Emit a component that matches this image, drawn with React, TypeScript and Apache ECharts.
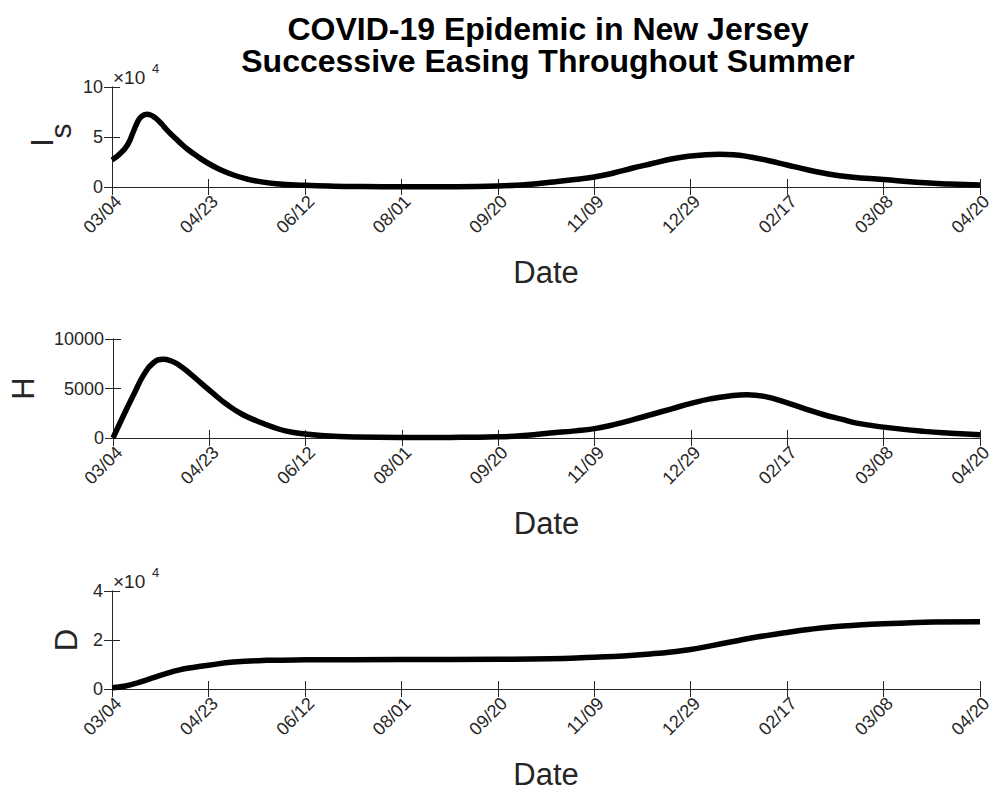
import React, { useEffect, useRef } from "react";
import * as echarts from "echarts";

// Shared date axis: one tick every 50 days over 450 days
const DATE_TICKS = ["03/04", "04/23", "06/12", "08/01", "09/20", "11/09", "12/29", "02/17", "03/08", "04/20"];
const DAY_STEP = 50;
const DAY_MAX = 450;

// Symptomatic infected (I_s)
const isDays = [0, 4, 8, 11, 13, 15, 18, 20, 22, 24, 26, 28, 30, 33, 36, 39, 44, 50, 56, 63, 70, 75, 85, 100, 115, 130, 150, 175, 200, 215, 227, 240, 250, 260, 270, 280, 290, 300, 308, 315, 322, 331, 340, 350, 360, 370, 383, 400, 417, 434, 450];
const isValues = [27000, 33000, 42000, 55000, 64000, 70000, 72800, 72000, 69800, 66500, 62500, 58000, 54000, 48500, 43000, 38000, 31000, 23500, 17500, 12000, 8000, 5900, 3300, 1700, 800, 400, 200, 300, 1000, 2500, 4800, 7500, 10000, 14000, 19000, 23500, 28000, 31000, 32300, 32700, 32300, 30000, 26500, 22000, 17500, 13500, 10000, 7400, 4700, 3000, 2000];

// Hospitalized (H)
const hDays = [0, 6, 11, 16, 21, 26, 30, 34, 40, 46, 52, 59, 67, 75, 83, 90, 100, 110, 125, 150, 175, 200, 215, 227, 240, 250, 260, 270, 280, 290, 300, 310, 320, 329, 338, 350, 360, 369, 378, 386, 400, 421, 435, 450];
const hValues = [0, 2500, 4500, 6400, 7600, 7950, 7800, 7400, 6500, 5500, 4500, 3400, 2400, 1700, 1100, 700, 400, 220, 100, 50, 60, 120, 280, 500, 720, 950, 1350, 1850, 2400, 2950, 3500, 3950, 4250, 4370, 4200, 3550, 2900, 2350, 1900, 1500, 1100, 670, 480, 330];

// Cumulative deaths (D)
const dDays = [0, 7, 14, 21, 28, 35, 42, 50, 63, 80, 100, 150, 200, 227, 250, 265, 279, 290, 300, 311, 322, 335, 350, 362, 374, 387, 400, 426, 450];
const dValues = [500, 1200, 2700, 4500, 6300, 7800, 8800, 9700, 11000, 11700, 11900, 12000, 12100, 12300, 13000, 13500, 14300, 15100, 16100, 17700, 19400, 21300, 23100, 24400, 25400, 26100, 26600, 27300, 27500];

const TITLE_LINES = ["COVID-19 Epidemic in New Jersey", "Successive Easing Throughout Summer"];

const INK = "#262626";
const FONT = "'Liberation Sans', Arial, Helvetica, sans-serif";

type Panel = {
  top: number;
  height: number;
  yMax: number;
  yStep: number;
  yLabel: (v: number) => string;
  name: string;
  nameGap: number;
  days: number[];
  values: number[];
};

const LEFT = 112;
const WIDTH = 868;

const panels: Panel[] = [
  {
    top: 87, height: 100, yMax: 100000, yStep: 50000,
    yLabel: (v) => String(v / 10000),
    name: "", nameGap: 0, // I_s label is drawn as graphic text (subscript)
    days: isDays, values: isValues,
  },
  {
    top: 339, height: 99, yMax: 10000, yStep: 5000,
    yLabel: (v) => String(v),
    name: "H", nameGap: 74,
    days: hDays, values: hValues,
  },
  {
    top: 591, height: 99, yMax: 40000, yStep: 20000,
    yLabel: (v) => String(v / 10000),
    name: "D", nameGap: 30,
    days: dDays, values: dValues,
  },
];

const tickStyle = { inside: true, length: 8, lineStyle: { color: INK, width: 1 } };
const lineStyle = { show: true, lineStyle: { color: INK, width: 1 } };

function buildOption() {
  const grid: any[] = [];
  const xAxis: any[] = [];
  const yAxis: any[] = [];
  const series: any[] = [];

  panels.forEach((p, i) => {
    grid.push({ left: LEFT, width: WIDTH, top: p.top, height: p.height, containLabel: false });

    xAxis.push({
      type: "value", gridIndex: i, position: "bottom",
      min: 0, max: DAY_MAX, interval: DAY_STEP,
      axisLine: lineStyle, axisTick: tickStyle, splitLine: { show: false },
      axisLabel: {
        rotate: 45, margin: 5, fontSize: 18, color: INK, fontFamily: FONT, verticalAlign: "top",
        formatter: (v: number) => DATE_TICKS[Math.round(v / DAY_STEP)] ?? "",
      },
      name: "Date", nameLocation: "middle", nameGap: 70,
      nameTextStyle: { fontSize: 31, color: INK, fontFamily: FONT },
    });
    xAxis.push({
      type: "value", gridIndex: i, position: "top",
      min: 0, max: DAY_MAX, interval: DAY_STEP,
      axisLine: lineStyle, axisTick: tickStyle, axisLabel: { show: false }, splitLine: { show: false },
    });

    yAxis.push({
      type: "value", gridIndex: i, position: "left",
      min: 0, max: p.yMax, interval: p.yStep,
      axisLine: lineStyle, axisTick: tickStyle, splitLine: { show: false },
      axisLabel: { margin: 9, fontSize: 18, color: INK, fontFamily: FONT, formatter: p.yLabel },
      name: p.name, nameLocation: "middle", nameRotate: 90, nameGap: p.nameGap,
      nameTextStyle: { fontSize: 31, color: INK, fontFamily: FONT },
    });
    yAxis.push({
      type: "value", gridIndex: i, position: "right",
      min: 0, max: p.yMax, interval: p.yStep,
      axisLine: lineStyle, axisTick: tickStyle, axisLabel: { show: false }, splitLine: { show: false },
    });

    series.push({
      type: "line",
      xAxisIndex: 2 * i, yAxisIndex: 2 * i,
      data: p.days.map((d, k) => [d, p.values[k]]),
      showSymbol: false, smooth: 0.5, clip: false,
      lineStyle: { color: "#000", width: 5.5, cap: "butt", join: "round" },
    });
  });

  const exponent = (top: number) => [
    { type: "text", x: 113, y: top - 10, style: { text: "×10", fontSize: 19, fill: INK, fontFamily: FONT, verticalAlign: "middle" } },
    { type: "text", x: 152, y: top - 19, style: { text: "4", fontSize: 13, fill: INK, fontFamily: FONT, verticalAlign: "middle" } },
  ];

  const titleLine = (text: string, y: number) => ({
    type: "text", x: 548, y,
    style: { text, fontSize: 32, lineHeight: 30, fontWeight: "bold", fill: "#000", fontFamily: FONT, align: "center", verticalAlign: "middle" },
  });

  const rot = Math.PI / 2;
  const graphic: any[] = [
    titleLine(TITLE_LINES[0], 29),
    titleLine(TITLE_LINES[1], 61),
    // I with subscript s, reading bottom-to-top beside the first panel
    { type: "text", x: 42, y: 142.5, rotation: rot, style: { text: "I", fontSize: 31, fill: INK, fontFamily: FONT, align: "center", verticalAlign: "middle" } },
    { type: "text", x: 60.5, y: 131, rotation: rot, style: { text: "s", fontSize: 30, fill: INK, fontFamily: FONT, align: "center", verticalAlign: "middle" } },
    ...exponent(panels[0].top),
    ...exponent(panels[2].top),
  ];

  return {
    animation: false,
    backgroundColor: "#ffffff",
    grid, xAxis, yAxis, series, graphic,
  };
}

export default function App() {
  const ref = useRef<HTMLDivElement>(null);
  useEffect(() => {
    if (!ref.current) return;
    const chart = echarts.init(ref.current, undefined, { renderer: "svg" });
    chart.setOption(buildOption());
    return () => chart.dispose();
  }, []);
  return <div ref={ref} style={{ position: "absolute", left: 0, top: 0, width: 995, height: 791 }} />;
}
